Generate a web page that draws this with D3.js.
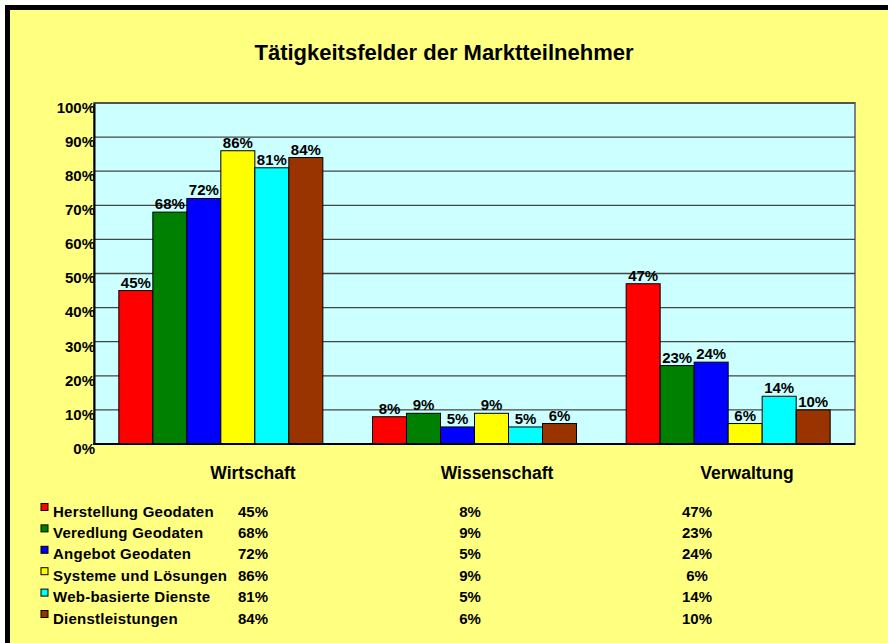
<!DOCTYPE html>
<html>
<head>
<meta charset="utf-8">
<script src="https://cdn.jsdelivr.net/npm/d3@7"></script>
<style>
  body { margin: 0; background: #fff; }
  svg { display: block; font-family: "Liberation Sans", Arial, sans-serif; font-weight: bold; }
  .tick text { font-size: 15px; font-weight: bold; fill: #000; }
</style>
</head>
<body>
<svg width="888" height="643"></svg>
<script>
var categories = ["Wirtschaft", "Wissenschaft", "Verwaltung"];
var seriesNames = ["Herstellung Geodaten", "Veredlung Geodaten", "Angebot Geodaten",
                   "Systeme und Lösungen", "Web-basierte Dienste", "Dienstleistungen"];
var herstellung = [45, 8, 47];
var veredlung = [68, 9, 23];
var angebot = [72, 5, 24];
var systeme = [86, 9, 6];
var webDienste = [81, 5, 14];
var dienstleistungen = [84, 6, 10];
var seriesColors = ["#FF0000", "#008000", "#0000FF", "#FFFF00", "#00FFFF", "#993300"];
var yTicks = [0, 10, 20, 30, 40, 50, 60, 70, 80, 90, 100];

var series = [herstellung, veredlung, angebot, systeme, webDienste, dienstleistungen]
  .map((vals, i) => ({name: seriesNames[i], color: seriesColors[i], values: vals}));

var svg = d3.select("svg");

// frame
svg.append("rect")
  .attr("x", 7.5).attr("y", 7.5)
  .attr("width", 900).attr("height", 700)
  .attr("fill", "#FFFF80")
  .attr("stroke", "#000")
  .attr("stroke-width", 5);

// title
svg.append("text")
  .attr("x", 444).attr("y", 60)
  .attr("text-anchor", "middle")
  .style("font-size", "22px")
  .text("Tätigkeitsfelder der Marktteilnehmer");

var pArea = [94, 103, 855, 444];

var x0 = d3.scaleBand().domain(categories).range([pArea[0], pArea[2]]);
var x1 = d3.scaleBand().domain(seriesNames).range([0, x0.bandwidth()]).paddingOuter(0.73);
var y = d3.scaleLinear().domain([0, 100]).range([pArea[3], pArea[1]]);

// plot background
svg.append("rect")
  .attr("x", pArea[0]).attr("y", pArea[1])
  .attr("width", pArea[2] - pArea[0]).attr("height", pArea[3] - pArea[1])
  .attr("fill", "#CCFFFF")
  .attr("stroke", "#808080")
  .attr("stroke-width", 2);

// gridlines
svg.append("g")
  .selectAll("line")
  .data(yTicks.slice(1))
  .join("line")
  .attr("x1", pArea[0]).attr("x2", pArea[2])
  .attr("y1", d => y(d)).attr("y2", d => y(d))
  .attr("stroke", "#444")
  .attr("stroke-width", 1.3);

// y axis
var yAxis = svg.append("g")
  .attr("transform", `translate(${pArea[0]},0)`)
  .call(d3.axisLeft(y).tickValues(yTicks).tickSize(0).tickPadding(0).tickFormat(d => d + "%"));
yAxis.select(".domain").attr("stroke", "#000").attr("stroke-width", 2);
yAxis.selectAll(".tick text").attr("x", 1).attr("dy", "0.62em");

// bars
var groups = svg.append("g")
  .selectAll("g")
  .data(series)
  .join("g")
  .attr("fill", d => d.color);

groups.selectAll("rect")
  .data(d => d.values.map((v, i) => ({name: d.name, cat: categories[i], v: v})))
  .join("rect")
  .attr("x", d => x0(d.cat) + x1(d.name))
  .attr("y", d => y(d.v))
  .attr("width", x1.bandwidth())
  .attr("height", d => y(0) - y(d.v))
  .attr("stroke", "#000")
  .attr("stroke-width", 1);

groups.selectAll("text")
  .data(d => d.values.map((v, i) => ({name: d.name, cat: categories[i], v: v})))
  .join("text")
  .attr("x", d => x0(d.cat) + x1(d.name) + x1.bandwidth() / 2)
  .attr("y", d => y(d.v) - 3)
  .attr("text-anchor", "middle")
  .attr("fill", "#000")
  .style("font-size", "15px")
  .text(d => d.v + "%");

// x axis line
svg.append("line")
  .attr("x1", pArea[0] - 1).attr("x2", pArea[2])
  .attr("y1", pArea[3]).attr("y2", pArea[3])
  .attr("stroke", "#000")
  .attr("stroke-width", 2);

// category labels (sit right of the group centres, as in the original)
var catLabelX = [253, 497, 747];
svg.append("g")
  .selectAll("text")
  .data(categories)
  .join("text")
  .attr("x", (d, i) => catLabelX[i])
  .attr("y", 479)
  .attr("text-anchor", "middle")
  .style("font-size", "17.5px")
  .text(d => d);

// data table
var rowY = d3.scalePoint().domain(seriesNames).range([516.5, 623.5]);
var colX = [253, 470, 697];

var rows = svg.append("g")
  .selectAll("g")
  .data(series)
  .join("g")
  .attr("transform", d => `translate(0,${rowY(d.name)})`);

rows.append("rect")
  .attr("x", 41).attr("y", -13)
  .attr("width", 7).attr("height", 7)
  .attr("fill", d => d.color)
  .attr("stroke", "#000")
  .attr("stroke-width", 1);

rows.append("text")
  .attr("x", 53)
  .style("font-size", "15px")
  .style("letter-spacing", "0.25px")
  .text(d => d.name);

rows.selectAll("text.val")
  .data(d => d.values)
  .join("text")
  .attr("class", "val")
  .attr("x", (d, i) => colX[i])
  .attr("text-anchor", "middle")
  .style("font-size", "15px")
  .text(d => d + "%");
</script>
</body>
</html>
